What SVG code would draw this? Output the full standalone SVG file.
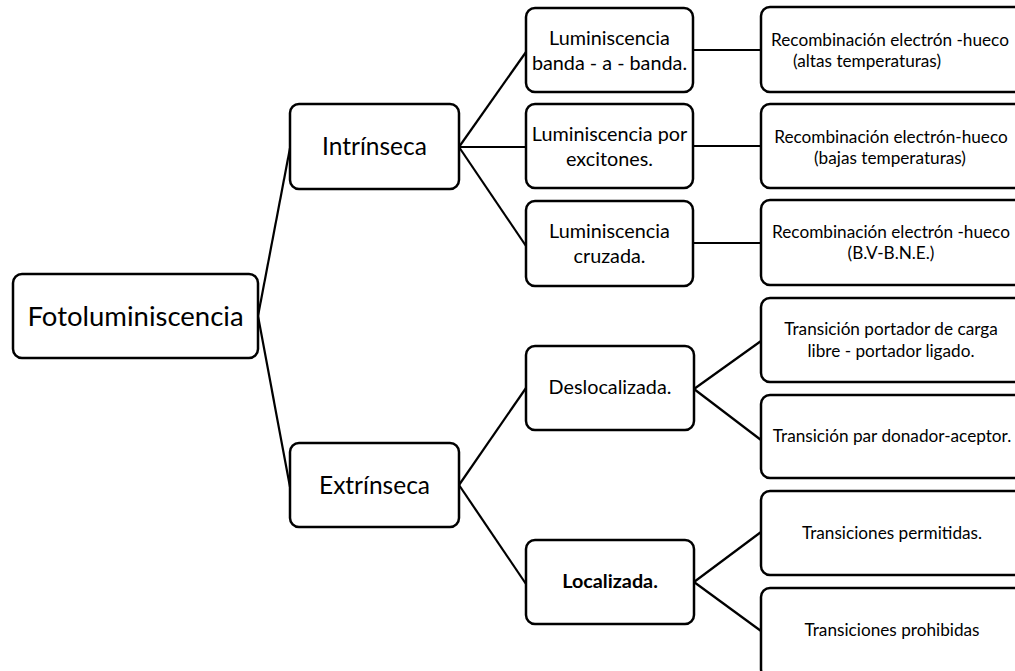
<svg xmlns="http://www.w3.org/2000/svg" width="1015" height="671" viewBox="0 0 1015 671">
<style>
.box{fill:#fff;stroke:#000;stroke-width:2.5}
.con line{stroke:#000;stroke-width:2.2;fill:none}
text{font-family:Lato,"Open Sans","Liberation Sans",sans-serif;fill:#000;text-anchor:middle}
.t1{font-size:27.5px}
.t2{font-size:24.5px}
.t3{font-size:19.8px}
.t4{font-size:17.2px}
.b{font-weight:bold}
</style>
<rect width="1015" height="671" fill="#fff"/>
<g class="con">
<line x1="258" y1="316" x2="290" y2="148"/>
<line x1="258" y1="316" x2="290" y2="487"/>
<line x1="459" y1="147" x2="526" y2="52"/>
<line x1="459" y1="147" x2="526" y2="147"/>
<line x1="459" y1="147" x2="526" y2="246"/>
<line x1="459" y1="485" x2="526" y2="388"/>
<line x1="459" y1="485" x2="526" y2="584"/>
<line x1="693" y1="50" x2="761" y2="50"/>
<line x1="693" y1="146" x2="761" y2="146"/>
<line x1="693" y1="243" x2="761" y2="243"/>
<line x1="694" y1="389" x2="761" y2="341"/>
<line x1="694" y1="389" x2="761" y2="440"/>
<line x1="694" y1="582" x2="761" y2="532"/>
<line x1="694" y1="582" x2="761" y2="631"/>
</g>
<g id="fotoluminiscencia">
<rect class="box" x="13" y="274" width="245" height="84" rx="9"/>
<text class="t1" x="135.5" y="326">Fotoluminiscencia</text>
</g>
<g id="intrinseca">
<rect class="box" x="290" y="104" width="169" height="85" rx="9"/>
<text class="t2" x="374.5" y="155">Intrínseca</text>
</g>
<g id="extrinseca">
<rect class="box" x="290" y="443" width="169" height="84" rx="9"/>
<text class="t2" x="374.5" y="494">Extrínseca</text>
</g>
<g id="lum-banda">
<rect class="box" x="526" y="8" width="167" height="84" rx="9"/>
<text class="t3" x="609.5" y="45">Luminiscencia</text>
<text class="t3" x="609.5" y="70">banda - a - banda.</text>
</g>
<g id="lum-excitones">
<rect class="box" x="526" y="104" width="167" height="84" rx="9"/>
<text class="t3" x="609.5" y="141">Luminiscencia por</text>
<text class="t3" x="609.5" y="166">excitones.</text>
</g>
<g id="lum-cruzada">
<rect class="box" x="526" y="201" width="167" height="85" rx="9"/>
<text class="t3" x="609.5" y="238">Luminiscencia</text>
<text class="t3" x="609.5" y="263">cruzada.</text>
</g>
<g id="deslocalizada">
<rect class="box" x="526" y="346" width="168" height="84" rx="9"/>
<text class="t3" x="610" y="394">Deslocalizada.</text>
</g>
<g id="localizada">
<rect class="box" x="526" y="540" width="168" height="84" rx="9"/>
<text class="t3 b" x="610" y="588">Localizada.</text>
</g>
<g id="recomb-altas">
<rect class="box" x="761" y="7" width="262" height="85" rx="9"/>
<text class="t4" x="890" y="46">Recombinación electrón -hueco</text>
<text class="t4" x="867" y="67">(altas temperaturas)</text>
</g>
<g id="recomb-bajas">
<rect class="box" x="761" y="104" width="262" height="84" rx="9"/>
<text class="t4" x="891" y="143">Recombinación electrón-hueco</text>
<text class="t4" x="890" y="164">(bajas temperaturas)</text>
</g>
<g id="recomb-bv">
<rect class="box" x="761" y="200" width="262" height="85" rx="9"/>
<text class="t4" x="891" y="238">Recombinación electrón -hueco</text>
<text class="t4" x="891" y="259">(B.V-B.N.E.)</text>
</g>
<g id="trans-libre">
<rect class="box" x="761" y="298" width="262" height="84" rx="9"/>
<text class="t4" x="891" y="335">Transición portador de carga</text>
<text class="t4" x="891" y="357">libre - portador ligado.</text>
</g>
<g id="trans-par">
<rect class="box" x="761" y="395" width="262" height="83" rx="9"/>
<text class="t4" x="892" y="442">Transición par donador-aceptor.</text>
</g>
<g id="trans-permitidas">
<rect class="box" x="761" y="491" width="262" height="84" rx="9"/>
<text class="t4" x="892" y="539">Transiciones permitidas.</text>
</g>
<g id="trans-prohibidas">
<rect class="box" x="761" y="588" width="262" height="90" rx="9"/>
<text class="t4" x="892" y="636">Transiciones prohibidas</text>
</g>
</svg>
